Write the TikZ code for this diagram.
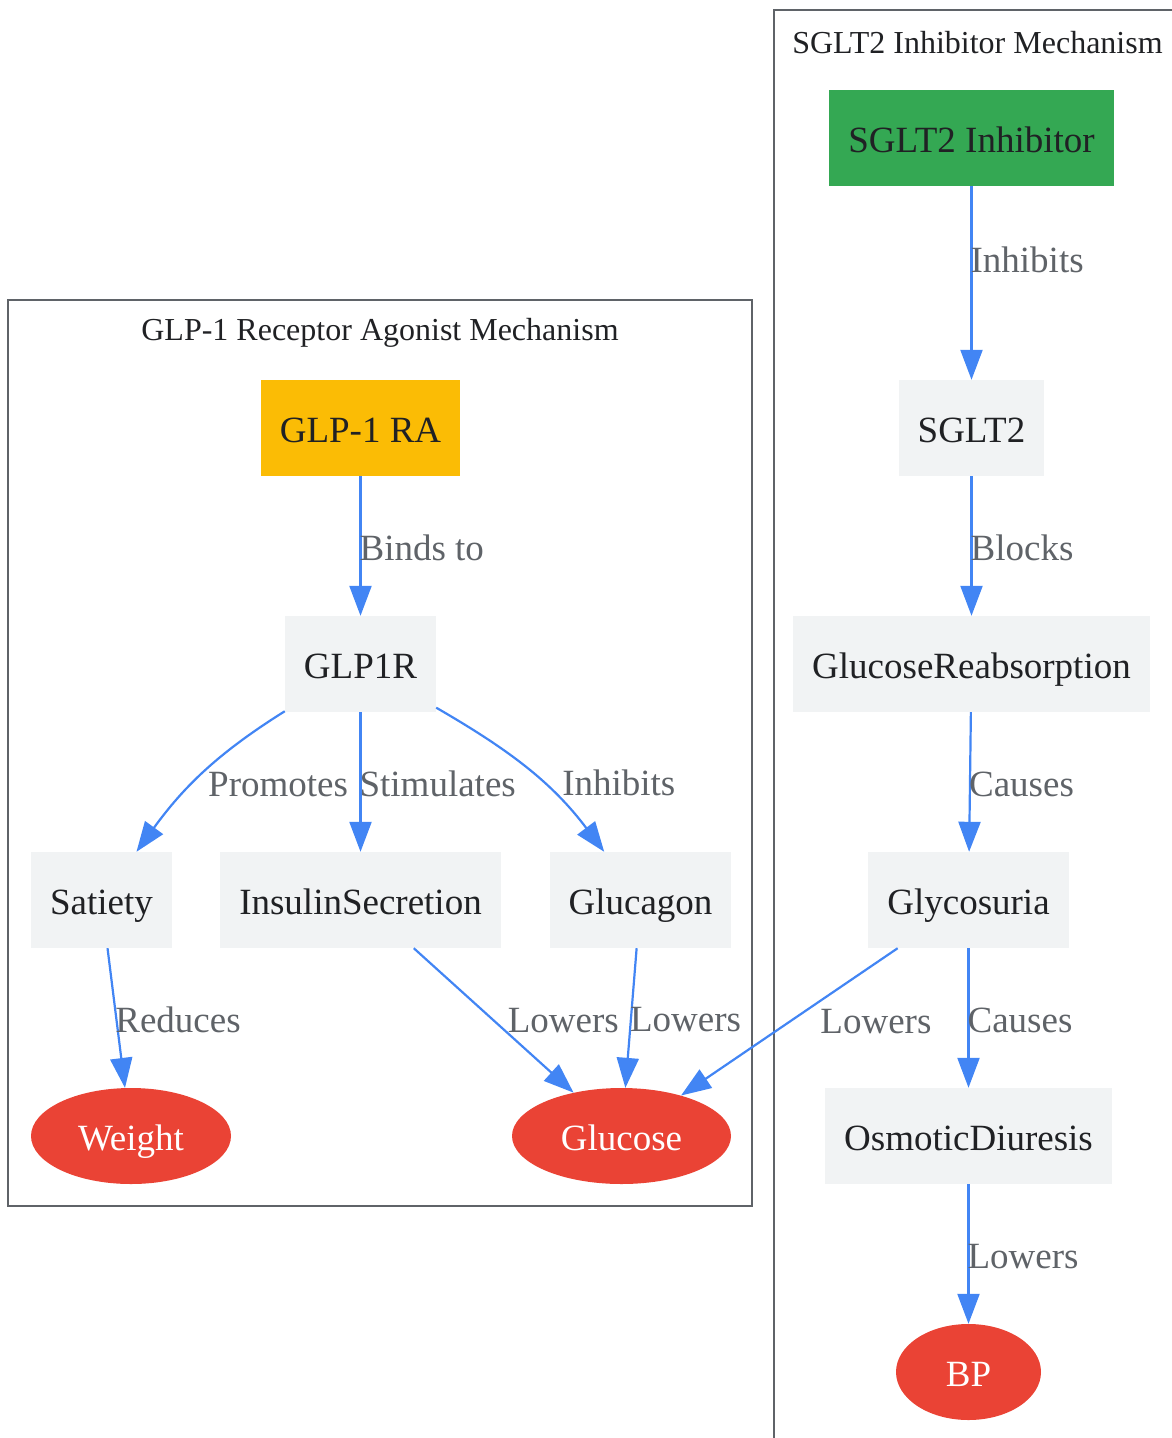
\documentclass[tikz,border=0pt]{standalone}
\usepackage{fontspec}
\setmainfont{Liberation Serif}
\usepackage{tikz}
\usetikzlibrary{positioning,shapes,arrows.meta}
\definecolor{boxgray}{HTML}{F1F3F4}
\definecolor{edgeblue}{HTML}{4285F4}
\definecolor{lblgray}{HTML}{5F6368}
\definecolor{txtdark}{HTML}{202124}
\definecolor{drugyellow}{HTML}{FBBC05}
\definecolor{druggreen}{HTML}{34A853}
\definecolor{outred}{HTML}{EA4335}
\tikzstyle{StepNode}=[rectangle, fill=boxgray, text=txtdark, minimum height=96pt, inner xsep=19pt, text height=34pt, text depth=4.6pt, font=\fontsize{37}{44}\selectfont]
\tikzstyle{DrugNode}=[StepNode, fill=drugyellow]
\tikzstyle{OutNode}=[ellipse, fill=outred, text=white, minimum height=96pt, inner sep=0pt, text height=34pt, text depth=4.6pt, font=\fontsize{37}{44}\selectfont]
\tikzstyle{Arr}=[-{Triangle[length=30pt,width=22pt]}, draw=edgeblue, line width=2.2pt]
\tikzstyle{Lbl}=[text=lblgray, inner sep=0pt, anchor=west, xshift=-2pt, text height=33pt, text depth=4.6pt, font=\fontsize{37}{44}\selectfont]
\tikzstyle{Cluster}=[draw=lblgray, line width=2pt]
\tikzstyle{Title}=[text=txtdark, font=\fontsize{32}{38}\selectfont]

\begin{document}
\begin{tikzpicture}[x=1pt, y=1pt, node distance=236pt]
      \useasboundingbox (0,0) rectangle (1171,-1438);
      % clusters
      \draw[Cluster] (8,-300) rectangle (752,-1206);
      \draw[Cluster] (774,-10) rectangle (1190,-1460);
      \node[Title] (t1) at (380,-333) {GLP-1 Receptor Agonist Mechanism};
      \node[Title] (t2) at (977.5,-43) {SGLT2 Inhibitor Mechanism};
      % GLP-1 side
      \node[DrugNode] (g1) at (360.5,-428) {GLP-1 RA};
      \node[StepNode] (g2) [below of=g1] {GLP1R};
      \node[StepNode] (g3) [below of=g2, xshift=-259pt] {Satiety};
      \node[StepNode] (g4) [below of=g2] {InsulinSecretion};
      \node[StepNode] (g5) [below of=g2, xshift=280pt] {Glucagon};
      \node[OutNode, minimum width=200pt] (g6) [below of=g3, xshift=29.5pt] {Weight};
      \node[OutNode, minimum width=219pt] (g7) [below of=g4, xshift=261pt] {Glucose};
      % SGLT2 side
      \node[DrugNode, fill=druggreen] (s1) at (971.5,-138) {SGLT2 Inhibitor};
      \node[StepNode, node distance=290pt] (s2) [below of=s1] {SGLT2};
      \node[StepNode] (s3) [below of=s2] {GlucoseReabsorption};
      \node[StepNode] (s4) [below of=s3, xshift=-3pt] {Glycosuria};
      \node[StepNode] (s5) [below of=s4] {OsmoticDiuresis};
      \node[OutNode, minimum width=145pt] (s6) [below of=s5] {BP};
      % edges
      \draw[Arr] (g1) -- node[Lbl] {Binds to} (g2);
      \draw[Arr] (g2) to[out=-148, in=54] node[Lbl, pos=0.58, xshift=17pt, yshift=2pt] {Promotes} (g3);
      \draw[Arr] (g2) -- node[Lbl] {Stimulates} (g4);
      \draw[Arr] (g2) to[out=-30, in=127] node[Lbl, pos=0.6, xshift=19pt, yshift=2pt] {Inhibits} (g5);
      \draw[Arr] (g3) -- node[Lbl] {Reduces} (g6);
      \draw[Arr] (g4) -- node[Lbl, xshift=15pt, yshift=2pt] {Lowers} (g7);
      \draw[Arr] (g5) -- node[Lbl, yshift=1pt] {Lowers} (g7);
      \draw[Arr] (s4) -- node[Lbl, xshift=32pt, yshift=3pt] {Lowers} (g7);
      \draw[Arr] (s1) -- node[Lbl, pos=0.37] {Inhibits} (s2);
      \draw[Arr] (s2) -- node[Lbl] {Blocks} (s3);
      \draw[Arr] (s3) -- node[Lbl] {Causes} (s4);
      \draw[Arr] (s4) -- node[Lbl] {Causes} (s5);
      \draw[Arr] (s5) -- node[Lbl] {Lowers} (s6);
    \end{tikzpicture}
\end{document}
